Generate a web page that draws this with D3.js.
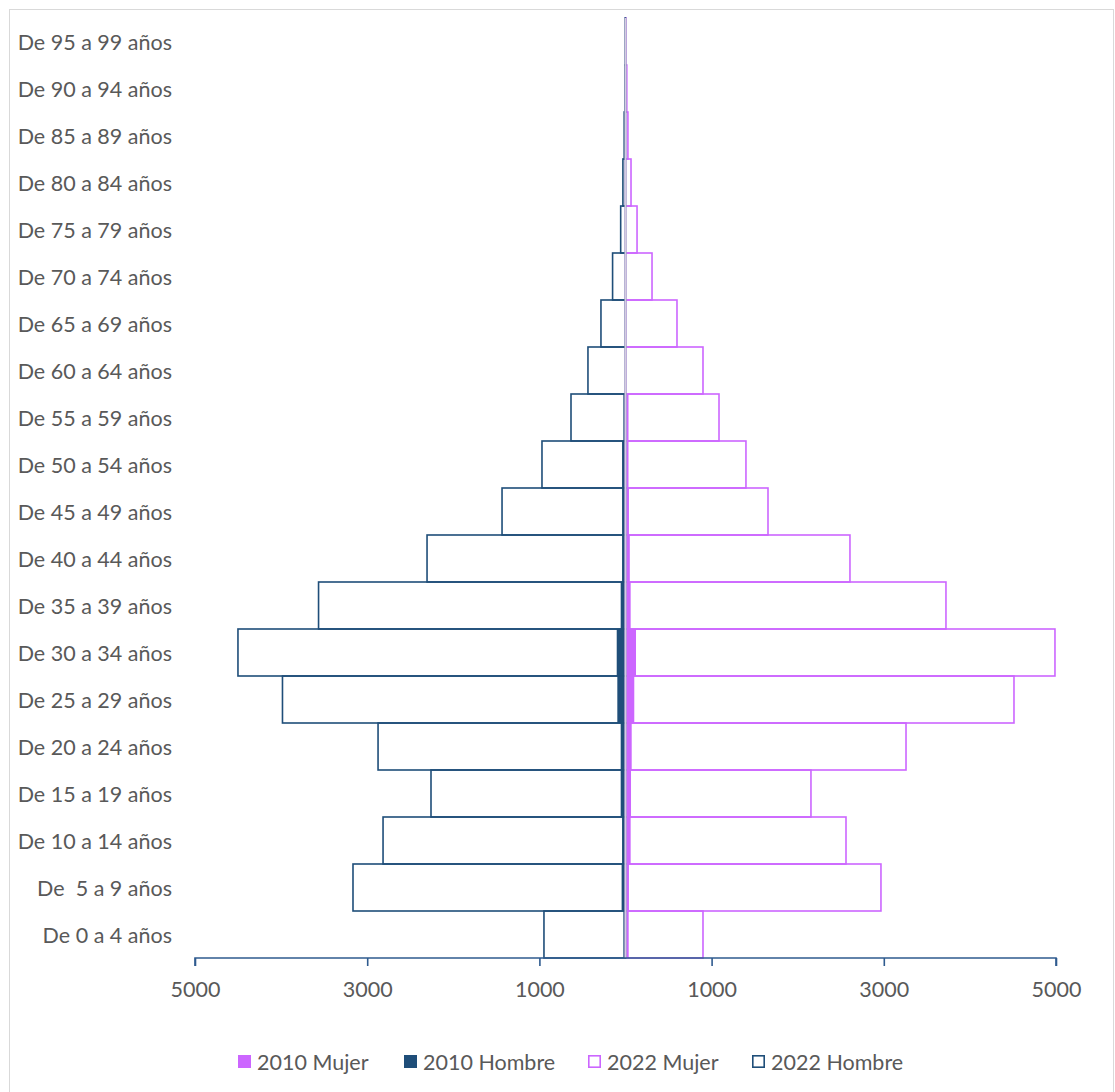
<!DOCTYPE html>
<html>
<head>
<meta charset="utf-8">
<script src="https://cdn.jsdelivr.net/npm/d3@7"></script>
<style>
  html, body { margin: 0; padding: 0; background: #fff; }
  svg { display: block; }
  text { font-family: Lato, "Open Sans", sans-serif; fill: #595959; }
</style>
</head>
<body>
<script>
// ---- Data ----
const categories = [
  "De 95 a 99 años", "De 90 a 94 años", "De 85 a 89 años", "De 80 a 84 años",
  "De 75 a 79 años", "De 70 a 74 años", "De 65 a 69 años", "De 60 a 64 años",
  "De 55 a 59 años", "De 50 a 54 años", "De 45 a 49 años", "De 40 a 44 años",
  "De 35 a 39 años", "De 30 a 34 años", "De 25 a 29 años", "De 20 a 24 años",
  "De 15 a 19 años", "De 10 a 14 años", "De  5 a 9 años", "De 0 a 4 años"
];
const mujer2010   = [0, 1, 2, 3, 5, 8, 10, 10, 35, 35, 40, 50, 60, 122, 102, 72, 64, 60, 40, 37];
const hombre2010  = [0, 1, 2, 3, 5, 8, 10, 8, 25, 40, 40, 40, 56, 102, 95, 56, 56, 40, 45, 25];
const mujer2022   = [5, 15, 28, 64, 134, 308, 598, 900, 1086, 1399, 1655, 2607, 3722, 4988, 4512, 3258, 2154, 2561, 2967, 900];
const hombre2022  = [4, 6, 15, 30, 56, 150, 285, 436, 633, 970, 1434, 2305, 3565, 4501, 3984, 2874, 2259, 2816, 3165, 947];
const tickValues  = [-5000, -3000, -1000, 1000, 3000, 5000];
const seriesNames = ["2010 Mujer", "2010 Hombre", "2022 Mujer", "2022 Hombre"];

// ---- Layout ----
const W = 1115, H = 1092;
const MUJER = "#cc66ff", HOMBRE = "#1f4e79";

const svg = d3.select("body").append("svg").attr("width", W).attr("height", H);

// chart border
svg.append("rect").attr("x", 9.5).attr("y", 9.5).attr("width", 1104).attr("height", 1100)
  .attr("fill", "none").attr("stroke", "#d9d9d9").attr("stroke-width", 1);

const x = d3.scaleLinear().domain([-5000, 5000]).range([195, 1056]);
const y = d3.scaleBand().domain(categories).range([18, 958]).padding(0);

const rows = categories.map((c, i) => ({
  c, m10: mujer2010[i], h10: hombre2010[i], m22: mujer2022[i], h22: hombre2022[i]
}));

const g = svg.append("g");

// 2010 filled bars
g.selectAll("rect.m10").data(rows).join("rect").attr("class", "m10")
  .attr("x", x(0)).attr("y", d => y(d.c))
  .attr("width", d => x(d.m10) - x(0)).attr("height", y.bandwidth())
  .attr("fill", MUJER);
g.selectAll("rect.h10").data(rows).join("rect").attr("class", "h10")
  .attr("x", d => x(-d.h10)).attr("y", d => y(d.c))
  .attr("width", d => x(0) - x(-d.h10)).attr("height", y.bandwidth())
  .attr("fill", HOMBRE);

// 2022 outlined bars
g.selectAll("rect.m22").data(rows).join("rect").attr("class", "m22")
  .attr("x", x(0)).attr("y", d => y(d.c))
  .attr("width", d => x(d.m22) - x(0)).attr("height", y.bandwidth())
  .attr("fill", "none").attr("stroke", MUJER).attr("stroke-width", 1.6);
g.selectAll("rect.h22").data(rows).join("rect").attr("class", "h22")
  .attr("x", d => x(-d.h22)).attr("y", d => y(d.c))
  .attr("width", d => x(0) - x(-d.h22)).attr("height", y.bandwidth())
  .attr("fill", "none").attr("stroke", HOMBRE).attr("stroke-width", 1.6);

// vertical category axis line at zero
g.append("line").attr("x1", x(0)).attr("x2", x(0)).attr("y1", 18).attr("y2", 958)
  .attr("stroke", "#d3cde0").attr("stroke-width", 2);

// category labels
svg.append("g").selectAll("text").data(categories).join("text")
  .attr("x", 172).attr("y", d => y(d) + y.bandwidth() / 2)
  .attr("text-anchor", "end").attr("dominant-baseline", "central")
  .attr("font-size", 21.5)
  .attr("xml:space", "preserve").style("white-space", "pre")
  .text(d => d);

// x axis
const xAxis = d3.axisBottom(x).tickValues(tickValues).tickSize(8).tickSizeOuter(0)
  .tickFormat(d => String(Math.abs(d)));
const ax = svg.append("g").attr("transform", "translate(0,958)").call(xAxis);
ax.select(".domain").attr("stroke", "#2f5b8f").attr("stroke-width", 1.6)
  .attr("d", `M${x(-5000)},8V0H${x(5000)}V8`);
ax.selectAll(".tick line").attr("stroke", "#2f5b8f").attr("stroke-width", 1.6);
ax.selectAll(".tick text").attr("font-size", 21.5).attr("fill", "#595959")
  .attr("font-family", "Lato, 'Open Sans', sans-serif").attr("y", 8).attr("dy", "1.45em");

// legend
const legendItems = [
  { name: seriesNames[0], color: MUJER, filled: true, sx: 238 },
  { name: seriesNames[1], color: HOMBRE, filled: true, sx: 404 },
  { name: seriesNames[2], color: MUJER, filled: false, sx: 588 },
  { name: seriesNames[3], color: HOMBRE, filled: false, sx: 752 }
];
const lg = svg.append("g");
legendItems.forEach(it => {
  const item = lg.append("g");
  if (it.filled) {
    item.append("rect").attr("x", it.sx).attr("y", 1055).attr("width", 13).attr("height", 13)
      .attr("fill", it.color);
  } else {
    item.append("rect").attr("x", it.sx + 0.8).attr("y", 1055.8).attr("width", 11.4).attr("height", 11.4)
      .attr("fill", "none").attr("stroke", it.color).attr("stroke-width", 1.6);
  }
  item.append("text").attr("x", it.sx + 19).attr("y", 1062)
    .attr("dominant-baseline", "central").attr("font-size", 21.5).text(it.name);
});
</script>
</body>
</html>
